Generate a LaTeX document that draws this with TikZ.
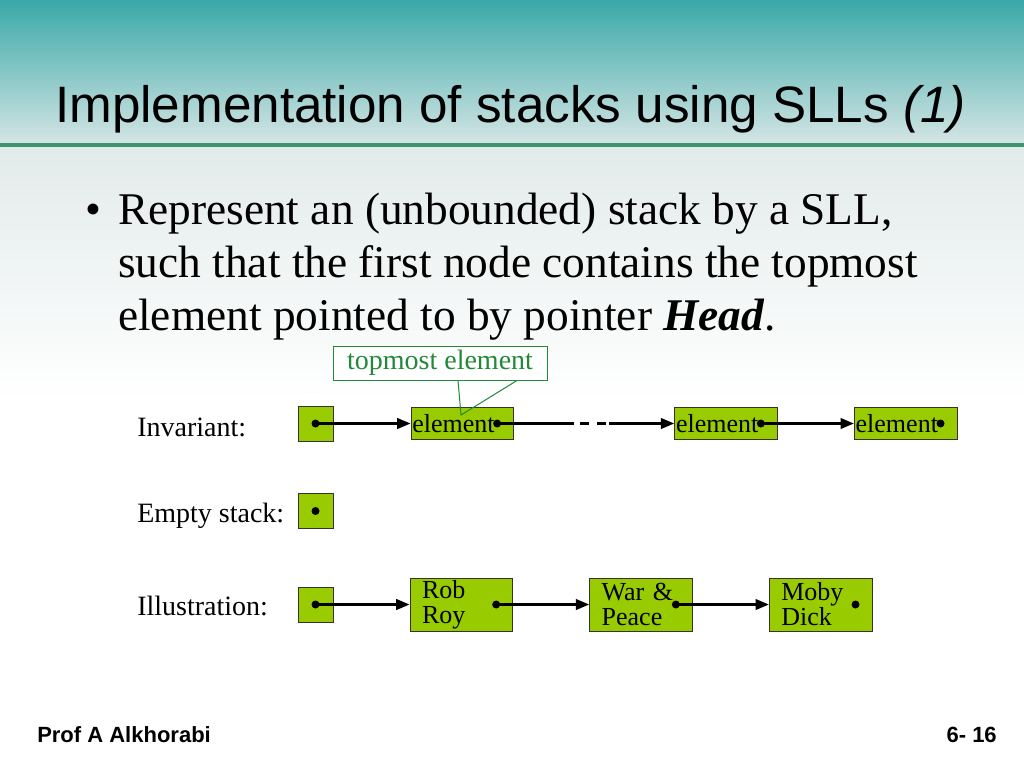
\documentclass[tikz,border=0pt]{standalone}
\usepackage{fontspec}
\setmainfont{Liberation Serif}
\setsansfont{Liberation Sans}
\usepackage{xcolor}
\usepackage{tikz}
\usetikzlibrary{chains,arrows.meta}

\definecolor{boxgreen}{HTML}{99CC00}
\definecolor{notegreen}{HTML}{22883A}
\definecolor{rulegreen}{HTML}{3D9470}
\definecolor{tealtop}{HTML}{3AA8A8}
\definecolor{tealmid}{HTML}{7BBEBC}
\definecolor{tealbot}{HTML}{D3E5E4}
\definecolor{paletop}{HTML}{E2EBEA}

\begin{document}
\begin{tikzpicture}[x=0.75pt,y=-0.75pt]

\edef\sizehead{26.25pt}
\tikzstyle{headcell}=[draw=black!80,fill=boxgreen,line width=0.75pt,minimum size=\sizehead,inner sep=0pt]
\tikzstyle{elemcell}=[headcell,minimum height=24pt,text width=75pt,inner xsep=1pt,align=left,font=\fontsize{19.5}{18.75}\selectfont]
\tikzstyle{bookcell}=[headcell,minimum height=39.75pt,text width=59pt,inner xsep=9pt,align=left,font=\fontsize{19.5}{18.75}\selectfont]
\tikzstyle{link}=[line width=1.6pt,-{Triangle[length=10pt,width=8pt]}]
\tikzstyle{rowlabel}=[anchor=base west,inner sep=0pt,font=\fontsize{21}{25}\selectfont]

%% Slide background
\useasboundingbox (0,0) rectangle (1024,768);
\shade[top color=tealtop,middle color=tealmid,bottom color=tealbot] (0,0) rectangle (1024,143);
\fill[rulegreen] (0,143) rectangle (1024,147);
\shade[top color=paletop,bottom color=white] (0,147) rectangle (1024,400);

\node[anchor=base west,inner sep=0pt,font=\sffamily\fontsize{38.4}{46}\selectfont] (title) at (55,122) {Implementation of stacks using SLLs \textit{(1)}};

\node[anchor=base west,inner sep=0pt,font=\fontsize{34}{39.75}\selectfont] (bullet) at (85,224) {\textbullet};
%% base of a multi-line node = last line
\node[anchor=base west,inner sep=0pt,align=left,font=\fontsize{34}{39.75}\selectfont] (intro) at (118,330) {Represent an (unbounded) stack by a SLL,\\ such that the first node contains the topmost\\ element pointed to by pointer \textbf{\textit{Head}}.};

%% Invariant
\begin{scope}[start chain=inv going right,node distance=57.75pt]
    \node [on chain=inv,headcell] (invhead) at (315.5,423.5) {};
    \node [on chain=inv,elemcell] (inv1) {element};
    \node [node distance=120pt,on chain=inv,elemcell] (inv2) {element};
    \node [node distance=57pt,on chain=inv,elemcell] (inv3) {element};
\end{scope}

%% Empty stack
\node [headcell] (emptyhead) at (315.5,511) {};

%% Illustration
\begin{scope}[start chain=ill going right,node distance=57pt]
    \node [on chain=ill,headcell] (illhead) at (315.5,604.5) {};
    \node [on chain=ill,bookcell] (ill1) {Rob\\ Roy};
    \node [on chain=ill,bookcell] (ill2) {War \&\\ Peace};
    \node [on chain=ill,bookcell] (ill3) {Moby\\ Dick};
\end{scope}

\node[rowlabel] (invlabel) at (137,436) {Invariant:};
\node[rowlabel] (emptylabel) at (137,522) {Empty stack:};
\node[rowlabel] (illlabel) at (137,615) {Illustration:};

%% Pointers
\foreach \n in {inv1,inv2,inv3,ill1,ill2,ill3}
    \coordinate (\n p) at ([xshift=-12.75pt]\n.east);
\foreach \n in {invhead,emptyhead,illhead,inv1p,inv2p,inv3p,ill1p,ill2p,ill3p}
    \fill (\n) circle (3pt);

\draw[link] (invhead.center) -- (inv1);
\draw[line width=1.6pt,dash pattern=on 57.75pt off 4.5pt on 6.75pt off 6pt on 6.75pt off 2.25pt] (inv1p) -- ++(84pt,0) coordinate (gapend);
\draw[link] (gapend) -- (inv2);
\draw[link] (inv2p) -- (inv3);

\draw[link] (illhead.center) -- (ill1);
\draw[link] (ill1p) -- (ill2);
\draw[link] (ill2p) -- (ill3);

%% Callout
\node[draw=notegreen,fill=white,text=notegreen,line width=0.75pt,minimum width=160.5pt,minimum height=25.5pt,inner sep=0pt,font=\fontsize{21}{25}\selectfont] (topnote) at (440,363) {topmost element};
\coordinate (notetip) at (461,415);
\draw[notegreen,line width=0.75pt] ([xshift=13.5pt]topnote.south) -- (notetip) -- ([xshift=57.75pt]topnote.south);

%% Footer
\node[anchor=base west,inner sep=0pt,font=\sffamily\bfseries\fontsize{16.5}{20}\selectfont] (author) at (37,742) {Prof A Alkhorabi};
\node[anchor=base east,inner sep=0pt,font=\sffamily\bfseries\fontsize{16.5}{20}\selectfont] (pageno) at (997,742) {6- 16};

\end{tikzpicture}
\end{document}
